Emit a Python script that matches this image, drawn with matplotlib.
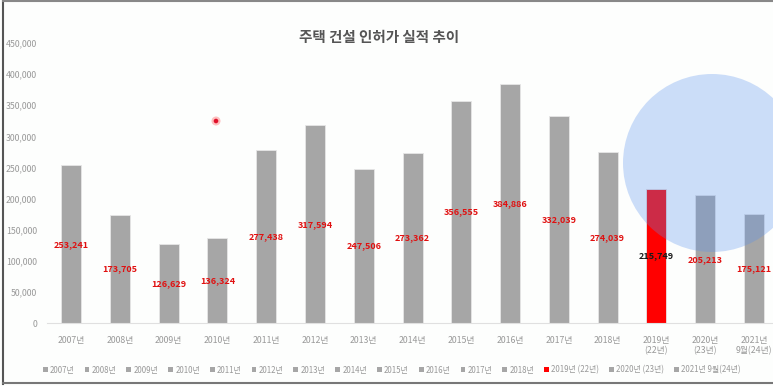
import matplotlib.pyplot as plt
from matplotlib.patches import Patch, Circle
import numpy as np

plt.rcParams['font.family'] = ['Noto Sans CJK KR', 'DejaVu Sans']

# data
tick_labels = ["2007년", "2008년", "2009년", "2010년", "2011년", "2012년", "2013년",
               "2014년", "2015년", "2016년", "2017년", "2018년",
               "2019년\n(22년)", "2020년\n(23년)", "2021년\n9월(24년)"]
legend_labels = ["2007년", "2008년", "2009년", "2010년", "2011년", "2012년", "2013년",
                 "2014년", "2015년", "2016년", "2017년", "2018년",
                 "2019년 (22년)", "2020년 (23년)", "2021년 9월(24년)"]
permits = [253241, 173705, 126629, 136324, 277438, 317594, 247506,
           273362, 356555, 384886, 332039, 274039, 215749, 205213, 175121]
highlight = "2019년 (22년)"

gray = "#a6a6a6"
red = "#ff0000"
colors = [red if lab == highlight else gray for lab in legend_labels]

fig = plt.figure(figsize=(7.73, 3.86), dpi=100)
fig.patch.set_facecolor("#fdfefd")
ax = fig.add_axes([0.0603, 0.1632, 0.9467, 0.7254])
ax.set_facecolor("none")

x = np.arange(len(permits))
ax.bar(x, permits, width=0.41, color=colors, edgecolor="#e6e6e6", linewidth=0.6, zorder=2)

# value labels in the middle of each bar
for xi, v, lab in zip(x, permits, legend_labels):
    c = "#1a1a1a" if lab == highlight else "#e01010"
    ax.text(xi, v / 2, f"{v:,}", ha="center", va="center", fontsize=6.5,
            fontweight="bold", color=c, zorder=3)

ax.set_xlim(-0.5, len(permits) - 0.5)
ax.set_ylim(0, 450000)
ax.set_yticks(np.arange(0, 450001, 50000))
ax.yaxis.set_major_formatter(plt.FuncFormatter(lambda v, p: f"{int(v):,}"))
ax.set_xticks(x)
ax.set_xticklabels(tick_labels)
ax.tick_params(axis="both", length=0, labelsize=6.3, labelcolor="#999999")
ax.tick_params(axis="x", pad=9)
ax.tick_params(axis="y", pad=7)
for s in ["top", "right", "left"]:
    ax.spines[s].set_visible(False)
ax.spines["bottom"].set_color("#e0e0e0")
ax.spines["bottom"].set_linewidth(0.8)

fig.text(0.491, 0.904, "주택 건설 인허가 실적 추이", ha="center", va="center",
         fontsize=10.5, fontweight="bold", color="#555555")

handles = [Patch(facecolor=c, edgecolor="none") for c in colors]
fig.legend(handles, legend_labels, loc="center", bbox_to_anchor=(0.507, 0.041),
           ncol=len(legend_labels), frameon=False, fontsize=5.7,
           handlelength=0.6, handleheight=0.6, handletextpad=0.3, columnspacing=1.25,
           labelcolor="#999999")

# screenshot frame
fig.add_artist(plt.Line2D([0.004, 0.004], [0.005, 0.997], color="#555555", lw=1.5))
fig.add_artist(plt.Line2D([0.004, 1.0], [0.997, 0.997], color="#888888", lw=1.5))
fig.add_artist(plt.Line2D([0.004, 1.0], [0.008, 0.008], color="#777777", lw=1.5))

# presenter overlays
fig.add_artist(Circle((712, 386 - 163), 89, transform=None, facecolor=(0.35, 0.57, 0.93),
                      alpha=0.3, edgecolor="none", zorder=10))
fig.add_artist(Circle((216, 386 - 121), 4.5, transform=None, facecolor=(1, 0.3, 0.3),
                      alpha=0.35, edgecolor="none", zorder=10))
fig.add_artist(Circle((216, 386 - 121), 2.3, transform=None, facecolor="#e0102a",
                      edgecolor="none", zorder=11))

fig.savefig("out.png", dpi=100, facecolor=fig.get_facecolor())
